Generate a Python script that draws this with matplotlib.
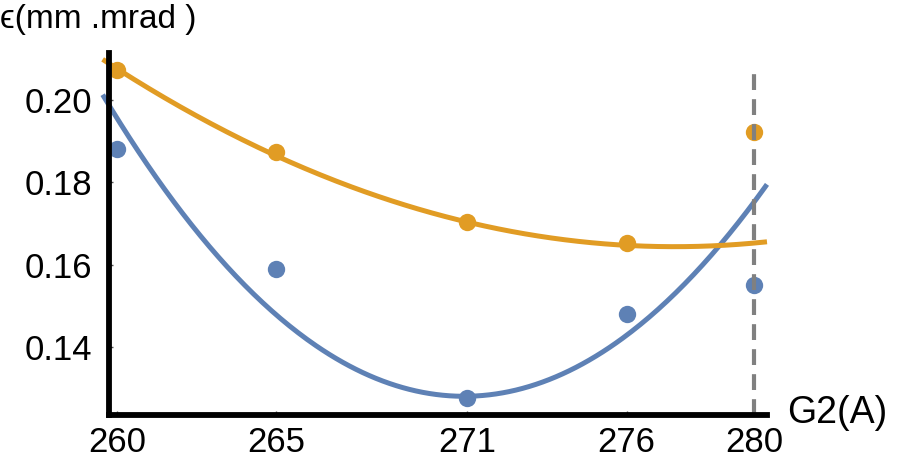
import numpy as np
import matplotlib
matplotlib.use("Agg")
import matplotlib.pyplot as plt

plt.rcParams['font.family'] = ['Liberation Sans', 'DejaVu Sans']

# Measured emittance versus G2 current
g2_current = [260, 265, 271, 276, 280]
emit_blue = [0.188, 0.159, 0.1276, 0.148, 0.155]
emit_orange = [0.2072, 0.1873, 0.1703, 0.1652, 0.1921]

# Quadratic fit coefficients (in powers of (G2 - 260)), highest order first
fit_blue = [0.000568, -0.01238, 0.1955]
fit_orange = [0.0001408, -0.004931, 0.2075]

x_ticks = [260, 265, 271, 276, 280]
y_ticks = [0.14, 0.16, 0.18, 0.20]
y_tick_labels = ["0.14", "0.16", "0.18", "0.20"]

g2_selected = 280
selected_top = 0.2075

BLUE = "#5E81B5"
ORANGE = "#E19C24"

fig = plt.figure(figsize=(8.98, 4.62), dpi=100)
ax = fig.add_axes([0.1214, 0.1017, 0.7327, 0.7836])

x0, x1 = 259.75, 280.41
y0, y1 = 0.1235, 0.2113
ax.set_xlim(x0, x1)
ax.set_ylim(y0, y1)

xs = np.linspace(259.55, x1, 300)
ax.plot(xs, np.polyval(fit_blue, xs - 260), color=BLUE, lw=3.6,
        solid_capstyle='butt', clip_on=False, zorder=3)
ax.plot(xs, np.polyval(fit_orange, xs - 260), color=ORANGE, lw=3.6,
        solid_capstyle='butt', clip_on=False, zorder=3)

ax.plot(g2_current, emit_blue, 'o', color=BLUE, ms=12.5, mec='none',
        clip_on=False, zorder=4)
ax.plot(g2_current, emit_orange, 'o', color=ORANGE, ms=12.5, mec='none',
        clip_on=False, zorder=4)

ax.plot([g2_selected, g2_selected], [y0, selected_top], color='#808080',
        lw=3.0, ls=(0, (3.8, 2.2)), zorder=5, clip_on=False)

for side in ('top', 'right'):
    ax.spines[side].set_visible(False)
for side in ('left', 'bottom'):
    ax.spines[side].set_linewidth(4.2)
    ax.spines[side].set_color('black')
    ax.spines[side].set_zorder(6)

ax.set_xticks(x_ticks)
ax.set_xticklabels([str(v) for v in x_ticks])
ax.set_yticks(y_ticks)
ax.set_yticklabels(y_tick_labels)
ax.tick_params(axis='both', direction='in', length=3, width=1,
               color='#555555', labelsize=25)
ax.tick_params(axis='x', pad=8)
ax.tick_params(axis='y', pad=12)

fig.text(0.0, 0.957, "ϵ(mm .mrad )", fontsize=24, ha='left', va='center')
fig.text(0.877, 0.107, "G2(A)", fontsize=27, ha='left', va='center')

fig.savefig("out.png", dpi=100)
